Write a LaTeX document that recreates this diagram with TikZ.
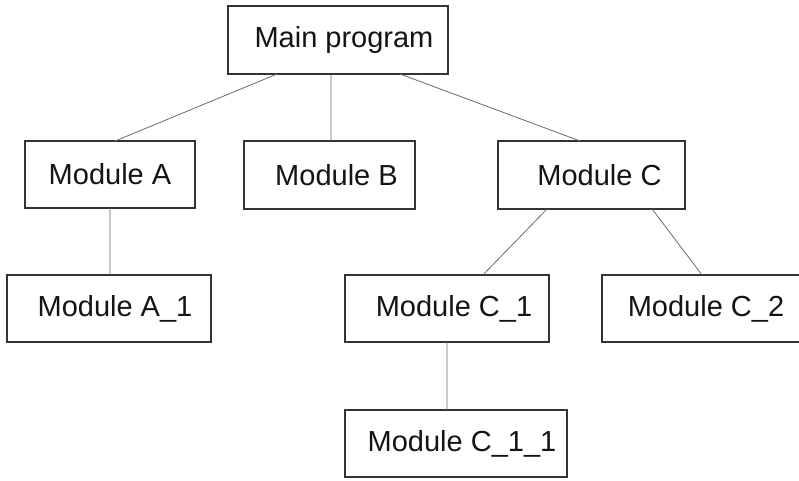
\documentclass[tikz,border=0pt]{standalone}
\usepackage{fontspec}
\setmainfont{Liberation Sans}
\usetikzlibrary{calc}
\definecolor{boxline}{HTML}{333333}
\definecolor{conn}{HTML}{6A6A6A}
\tikzset{
  modbox/.style={draw=boxline, line width=1.1pt, inner sep=0pt, outer sep=0pt,
    font=\fontsize{29}{32}\selectfont, text=black!92, anchor=center},
  link/.style={draw=conn, line width=0.8pt}
}
\begin{document}
\begin{tikzpicture}[x=1pt,y=-1pt]
\useasboundingbox (0,0) rectangle (799,480);
\node[modbox, minimum width=220pt, minimum height=68pt] (main) at (338,40) {\hspace*{12pt}Main program};
\node[modbox, minimum width=170pt, minimum height=67pt] (a) at (110,174.5) {Module A};
\node[modbox, minimum width=171pt, minimum height=68pt] (b) at (329.5,175) {\hspace*{14pt}Module B};
\node[modbox, minimum width=187pt, minimum height=68pt] (c) at (591.5,175) {\hspace*{16pt}Module C};
\node[modbox, minimum width=204pt, minimum height=67pt] (a1) at (109,308.5) {\hspace*{12pt}Module A\_1};
\node[modbox, minimum width=204pt, minimum height=67pt] (c1) at (447,308.5) {\hspace*{14pt}Module C\_1};
\node[modbox, minimum width=208pt, minimum height=67pt] (c2) at (706,308.5) {Module C\_2};
\node[modbox, minimum width=222pt, minimum height=67pt] (c11) at (456,443.5) {\hspace*{12pt}Module C\_1\_1};
\draw[link] ($(main.south west)!0.223!(main.south east)$) -- ($(a.north west)!0.53!(a.north east)$);
\draw[link] ($(main.south west)!0.468!(main.south east)$) -- ($(b.north west)!0.509!(b.north east)$);
\draw[link] ($(main.south west)!0.782!(main.south east)$) -- ($(c.north west)!0.439!(c.north east)$);
\draw[link] ($(a.south west)!0.5!(a.south east)$) -- ($(a1.north west)!0.505!(a1.north east)$);
\draw[link] ($(c.south west)!0.262!(c.south east)$) -- ($(c1.north west)!0.676!(c1.north east)$);
\draw[link] ($(c.south west)!0.824!(c.south east)$) -- ($(c2.north west)!0.481!(c2.north east)$);
\draw[link] ($(c1.south west)!0.5!(c1.south east)$) -- ($(c11.north west)!0.459!(c11.north east)$);
\end{tikzpicture}
\end{document}
